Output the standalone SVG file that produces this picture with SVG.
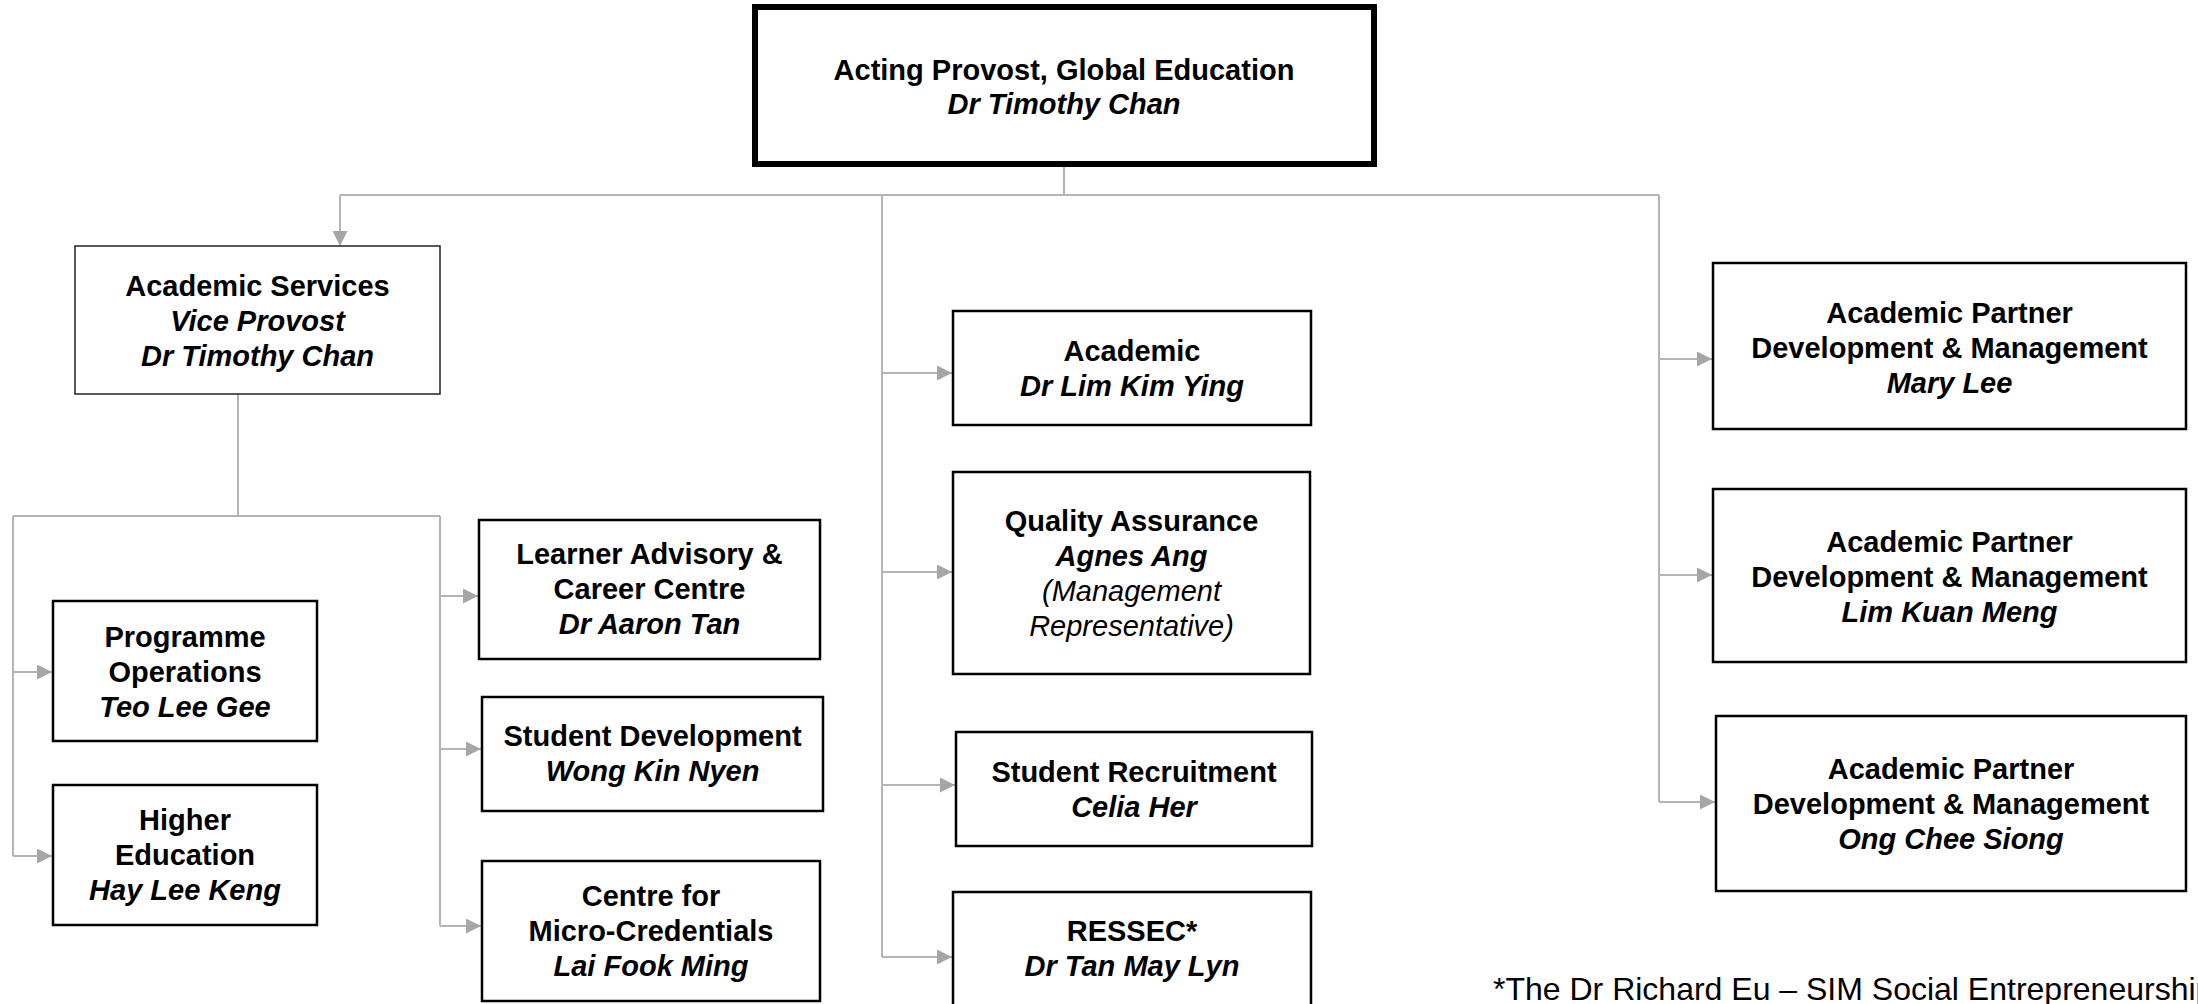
<svg xmlns="http://www.w3.org/2000/svg" width="2198" height="1004" viewBox="0 0 2198 1004">
<style>
  .bg { fill: #ffffff; }
  .box { fill: #ffffff; stroke: #000000; stroke-width: 2.5; }
  .thin { stroke: #222222; stroke-width: 1.5; }
  .top { stroke-width: 6; }
  .conn { fill: none; stroke: #B4B4B4; stroke-width: 2; }
  text { font-family: "Liberation Sans", Arial, "Noto Sans", sans-serif; font-size: 29px; fill: #000000; text-anchor: middle; }
  .t { font-weight: bold; }
  .n { font-weight: bold; font-style: italic; }
  .i { font-style: italic; }
  .foot { font-size: 32px; text-anchor: start; }
</style>
<defs>
  <marker id="arr" viewBox="0 0 15 15" refX="15" refY="7.5" markerWidth="15" markerHeight="15" markerUnits="userSpaceOnUse" orient="auto">
    <path d="M0,0 L15,7.5 L0,15 Z" fill="#A6A6A6"/>
  </marker>
</defs>
<rect class="bg" x="0" y="0" width="2198" height="1004"/>

<g id="connectors">
  <path class="conn" d="M1064 167 V195"/>
  <path class="conn" d="M340 195 H1659"/>
  <path class="conn" d="M340 195 V246" marker-end="url(#arr)"/>
  <path class="conn" d="M882 195 V957"/>
  <path class="conn" d="M882 373 H952" marker-end="url(#arr)"/>
  <path class="conn" d="M882 572 H952" marker-end="url(#arr)"/>
  <path class="conn" d="M882 785 H955" marker-end="url(#arr)"/>
  <path class="conn" d="M882 957 H952" marker-end="url(#arr)"/>
  <path class="conn" d="M1659 195 V802"/>
  <path class="conn" d="M1659 359 H1712" marker-end="url(#arr)"/>
  <path class="conn" d="M1659 575 H1712" marker-end="url(#arr)"/>
  <path class="conn" d="M1659 802 H1715" marker-end="url(#arr)"/>
  <path class="conn" d="M238 394 V516"/>
  <path class="conn" d="M13 516 H440"/>
  <path class="conn" d="M13 516 V856"/>
  <path class="conn" d="M13 672 H52" marker-end="url(#arr)"/>
  <path class="conn" d="M13 856 H52" marker-end="url(#arr)"/>
  <path class="conn" d="M440 516 V926"/>
  <path class="conn" d="M440 596 H478" marker-end="url(#arr)"/>
  <path class="conn" d="M440 749 H481" marker-end="url(#arr)"/>
  <path class="conn" d="M440 926 H481" marker-end="url(#arr)"/>
</g>

<g id="node-provost">
  <rect class="box top" x="755" y="7" width="619" height="157"/>
  <text class="t" x="1064" y="80">Acting Provost, Global Education</text>
  <text class="n" x="1064" y="114">Dr Timothy Chan</text>
</g>

<g id="node-academic-services">
  <rect class="box thin" x="75" y="246" width="365" height="148"/>
  <text class="t" x="257.5" y="296">Academic Services</text>
  <text class="n" x="257.5" y="331">Vice Provost</text>
  <text class="n" x="257.5" y="366">Dr Timothy Chan</text>
</g>

<g id="node-programme-operations">
  <rect class="box" x="53" y="601" width="264" height="140"/>
  <text class="t" x="185" y="647">Programme</text>
  <text class="t" x="185" y="682">Operations</text>
  <text class="n" x="185" y="717">Teo Lee Gee</text>
</g>

<g id="node-higher-education">
  <rect class="box" x="53" y="785" width="264" height="140"/>
  <text class="t" x="185" y="830">Higher</text>
  <text class="t" x="185" y="865">Education</text>
  <text class="n" x="185" y="900">Hay Lee Keng</text>
</g>

<g id="node-learner-advisory">
  <rect class="box" x="479" y="520" width="341" height="139"/>
  <text class="t" x="649.5" y="564">Learner Advisory &amp;</text>
  <text class="t" x="649.5" y="599">Career Centre</text>
  <text class="n" x="649.5" y="634">Dr Aaron Tan</text>
</g>

<g id="node-student-development">
  <rect class="box" x="482" y="697" width="341" height="114"/>
  <text class="t" x="652.5" y="746">Student Development</text>
  <text class="n" x="652.5" y="781">Wong Kin Nyen</text>
</g>

<g id="node-micro-credentials">
  <rect class="box" x="482" y="861" width="338" height="140"/>
  <text class="t" x="651" y="906">Centre for</text>
  <text class="t" x="651" y="941">Micro-Credentials</text>
  <text class="n" x="651" y="976">Lai Fook Ming</text>
</g>

<g id="node-academic">
  <rect class="box" x="953" y="311" width="358" height="114"/>
  <text class="t" x="1132" y="361">Academic</text>
  <text class="n" x="1132" y="396">Dr Lim Kim Ying</text>
</g>

<g id="node-quality-assurance">
  <rect class="box" x="953" y="472" width="357" height="202"/>
  <text class="t" x="1131.5" y="531">Quality Assurance</text>
  <text class="n" x="1131.5" y="566">Agnes Ang</text>
  <text class="i" x="1131.5" y="601">(Management</text>
  <text class="i" x="1131.5" y="636">Representative)</text>
</g>

<g id="node-student-recruitment">
  <rect class="box" x="956" y="732" width="356" height="114"/>
  <text class="t" x="1134" y="782">Student Recruitment</text>
  <text class="n" x="1134" y="817">Celia Her</text>
</g>

<g id="node-ressec">
  <rect class="box" x="953" y="892" width="358" height="130"/>
  <text class="t" x="1132" y="941">RESSEC*</text>
  <text class="n" x="1132" y="976">Dr Tan May Lyn</text>
</g>

<g id="node-apdm-1">
  <rect class="box" x="1713" y="263" width="473" height="166"/>
  <text class="t" x="1949.5" y="323">Academic Partner</text>
  <text class="t" x="1949.5" y="358">Development &amp; Management</text>
  <text class="n" x="1949.5" y="393">Mary Lee</text>
</g>

<g id="node-apdm-2">
  <rect class="box" x="1713" y="489" width="473" height="173"/>
  <text class="t" x="1949.5" y="552">Academic Partner</text>
  <text class="t" x="1949.5" y="587">Development &amp; Management</text>
  <text class="n" x="1949.5" y="622">Lim Kuan Meng</text>
</g>

<g id="node-apdm-3">
  <rect class="box" x="1716" y="716" width="470" height="175"/>
  <text class="t" x="1951" y="779">Academic Partner</text>
  <text class="t" x="1951" y="814">Development &amp; Management</text>
  <text class="n" x="1951" y="849">Ong Chee Siong</text>
</g>

<text class="foot" x="1493" y="1000">*The Dr Richard Eu – SIM Social Entrepreneurship</text>
</svg>
